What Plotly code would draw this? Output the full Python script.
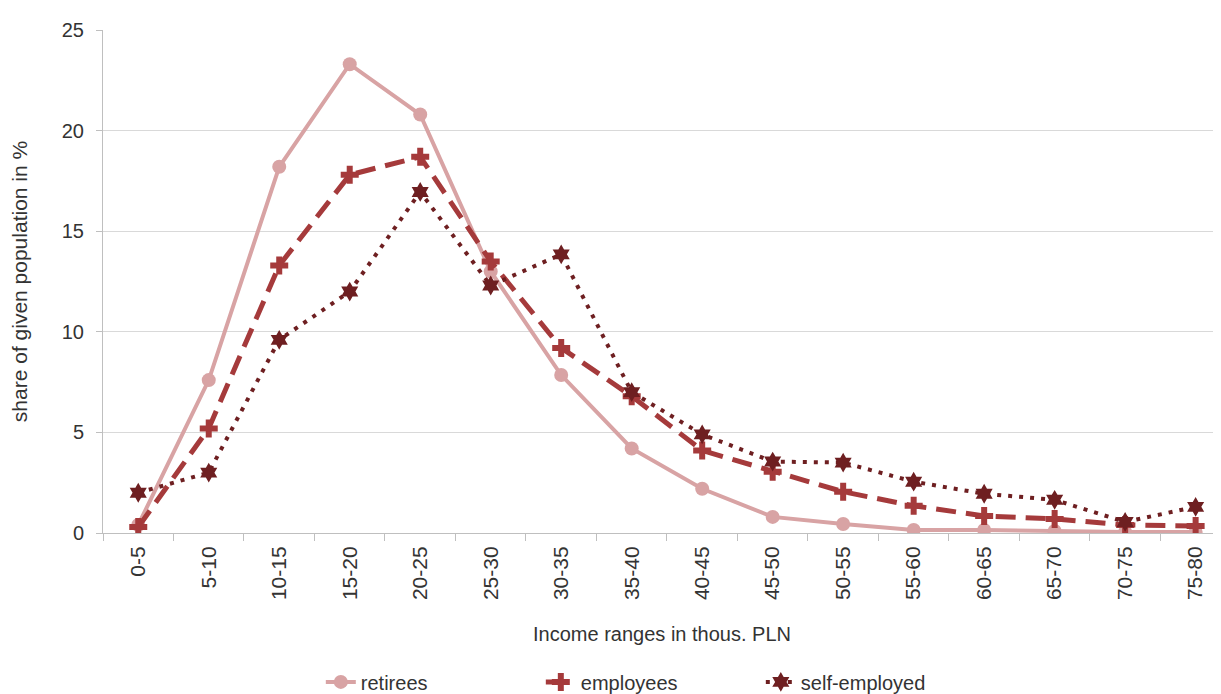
import plotly.graph_objects as go

categories = ["0-5", "5-10", "10-15", "15-20", "20-25", "25-30", "30-35", "35-40",
              "40-45", "45-50", "50-55", "55-60", "60-65", "65-70", "70-75", "75-80"]
retirees = [0.4, 7.6, 18.2, 23.3, 20.8, 13.0, 7.85, 4.2, 2.2, 0.8, 0.45, 0.15, 0.15, 0.1, 0.05, 0.05]
employees = [0.3, 5.2, 13.3, 17.8, 18.7, 13.5, 9.2, 6.8, 4.1, 3.05, 2.05, 1.35, 0.85, 0.7, 0.4, 0.35]
self_employed = [2.0, 3.0, 9.6, 12.0, 16.95, 12.3, 13.85, 7.0, 4.9, 3.55, 3.5, 2.55, 1.95, 1.65, 0.55, 1.3]

FONT = "Liberation Sans Narrow, Arial Narrow, Liberation Sans, Arial, sans-serif"
TXT = "#333333"

fig = go.Figure()
fig.add_trace(go.Scatter(
    x=categories, y=retirees, name="retirees", mode="lines+markers",
    line=dict(color="#D8A3A4", width=4),
    marker=dict(symbol="circle", size=14, color="#D8A3A4"),
))
fig.add_trace(go.Scatter(
    x=categories, y=employees, name="employees", mode="lines+markers",
    line=dict(color="#A53A3B", width=5, dash="20px,10px"),
    marker=dict(symbol="cross", size=15, color="#A53A3B"),
))
fig.add_trace(go.Scatter(
    x=categories, y=self_employed, name="self-employed", mode="lines+markers",
    line=dict(color="#6E1F21", width=4, dash="4px,7px"),
    marker=dict(symbol="hexagram", size=15, color="#6E1F21"),
))

# page body has an 8px margin, so the figure is sized to the visible area
fig.update_layout(
    width=1213, height=686,
    margin=dict(l=95, r=0, t=22, b=161, autoexpand=False),
    paper_bgcolor="white", plot_bgcolor="white",
    font=dict(family=FONT, color=TXT),
    showlegend=True,
    legend=dict(orientation="h", x=0.49, xanchor="center", y=-0.296, yanchor="middle",
                font=dict(size=20, family=FONT, color=TXT), traceorder="normal",
                entrywidth=175, entrywidthmode="pixels"),
)
fig.update_xaxes(
    type="category", range=[-0.5, 15.36], automargin=False,
    showgrid=False, showline=True, linecolor="#BFBFBF", linewidth=1,
    ticks="outside", tickson="boundaries", ticklen=7, tickcolor="#BFBFBF",
    tickangle=-90, tickfont=dict(size=21, family=FONT, color=TXT), ticklabelstandoff=4,
    title=dict(text="Income ranges in thous. PLN", font=dict(size=20, family=FONT, color=TXT), standoff=27),
)
fig.update_yaxes(
    range=[0, 25], tickvals=[0, 5, 10, 15, 20, 25], automargin=False,
    showgrid=True, gridcolor="#D9D9D9", gridwidth=1,
    showline=True, linecolor="#BFBFBF", linewidth=1,
    ticks="outside", ticklen=6, tickcolor="#BFBFBF",
    tickfont=dict(size=20, family=FONT, color=TXT), ticklabelstandoff=8,
    zeroline=False,
    title=dict(text="share of given population in %", font=dict(size=21, family=FONT, color=TXT), standoff=30),
)

fig.write_html("out.html")
